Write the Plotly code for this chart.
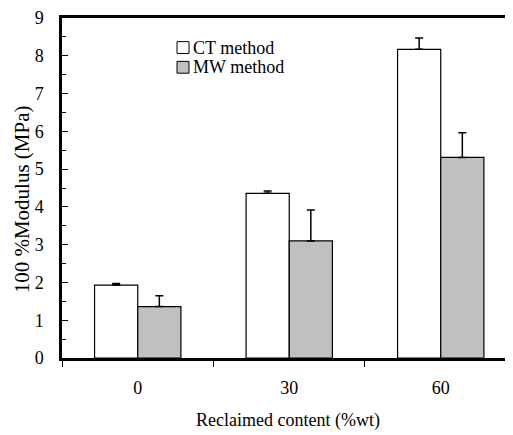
import plotly.graph_objects as go

categories = ["0", "30", "60"]
ct_values = [1.93, 4.36, 8.17]
ct_errors = [0.04, 0.06, 0.30]
mw_values = [1.36, 3.10, 5.31]
mw_errors = [0.29, 0.82, 0.65]
series_names = ["CT method", "MW method"]
y_ticks = [0, 1, 2, 3, 4, 5, 6, 7, 8, 9]

# page body has an 8px margin; work in window pixels and convert
OFF = 8
W, H = 513 - OFF, 435 - OFF
L, R, T, B = 62 - OFF, 0, 13 - OFF, 435 - 358
PW, PH = W - L - R, H - T - B

def px(x):
    return (x - OFF - L) / PW

def py(y):
    return (H - B - (y - OFF)) / PH

FONT = "Liberation Serif"
xpos = list(range(len(categories)))

fig = go.Figure()
fig.add_trace(go.Bar(
    x=xpos, y=ct_values, name=series_names[0],
    marker=dict(color="white", line=dict(color="black", width=1.2)),
    error_y=dict(type="data", array=ct_errors, arrayminus=[0]*3, symmetric=False,
                 color="black", thickness=1.5, width=4),
    showlegend=False,
))
fig.add_trace(go.Bar(
    x=xpos, y=mw_values, name=series_names[1],
    marker=dict(color="#c0c0c0", line=dict(color="black", width=1.2)),
    error_y=dict(type="data", array=mw_errors, arrayminus=[0]*3, symmetric=False,
                 color="black", thickness=1.5, width=4),
    showlegend=False,
))

fig.update_layout(
    width=W, height=H,
    margin=dict(l=L, r=R, t=T, b=B, pad=0),
    paper_bgcolor="white", plot_bgcolor="white",
    barmode="group", bargap=0.43, bargroupgap=0,
    font=dict(family=FONT, size=18, color="black"),
    showlegend=False,
)
fig.update_xaxes(
    range=[-0.5, 2.477], tickmode="array", tickvals=xpos, ticktext=categories,
    ticks="", showgrid=False, zeroline=False,
    showline=True, linecolor="black", linewidth=2.5, mirror=True,
    ticklabelstandoff=12,
    tickfont=dict(family=FONT, size=18),
    minor=dict(ticks="outside", tick0=-0.5, dtick=1, ticklen=6, tickcolor="black", tickwidth=1, showgrid=False),
)
fig.update_yaxes(
    range=[0, 9], tickmode="array", tickvals=y_ticks,
    ticks="inside", ticklen=6, tickwidth=1, tickcolor="black",
    showgrid=False, zeroline=False,
    showline=True, linecolor="black", linewidth=2.5,
    ticklabelstandoff=12, ticklabeloverflow="allow",
    tickfont=dict(family=FONT, size=18),
    minor=dict(ticks="inside", tick0=0.5, dtick=1, ticklen=4, tickcolor="black", tickwidth=1, showgrid=False),
)

# legend (manual, to match tight symbol/text spacing)
leg_colors = ["white", "#c0c0c0"]
leg_y = [43, 63]
for name, col, yc in zip(series_names, leg_colors, leg_y):
    fig.add_shape(type="rect", xref="paper", yref="paper",
                  x0=px(177), x1=px(189), y0=py(yc + 6), y1=py(yc - 6),
                  fillcolor=col, line=dict(color="black", width=1))
    fig.add_annotation(text=name, xref="paper", yref="paper",
                       x=px(191), y=py(yc), xanchor="left", yanchor="middle",
                       showarrow=False, font=dict(family=FONT, size=18))

fig.add_annotation(text="Reclaimed content (%wt)", xref="paper", yref="paper",
                   x=px(288), y=py(421), xanchor="center", yanchor="middle",
                   showarrow=False, font=dict(family=FONT, size=18))
fig.add_annotation(text="100 %Modulus (MPa)", xref="paper", yref="paper",
                   x=px(22), y=py(197), xanchor="center", yanchor="middle",
                   textangle=-90, showarrow=False, font=dict(family=FONT, size=21))

fig.write_html("out.html")
